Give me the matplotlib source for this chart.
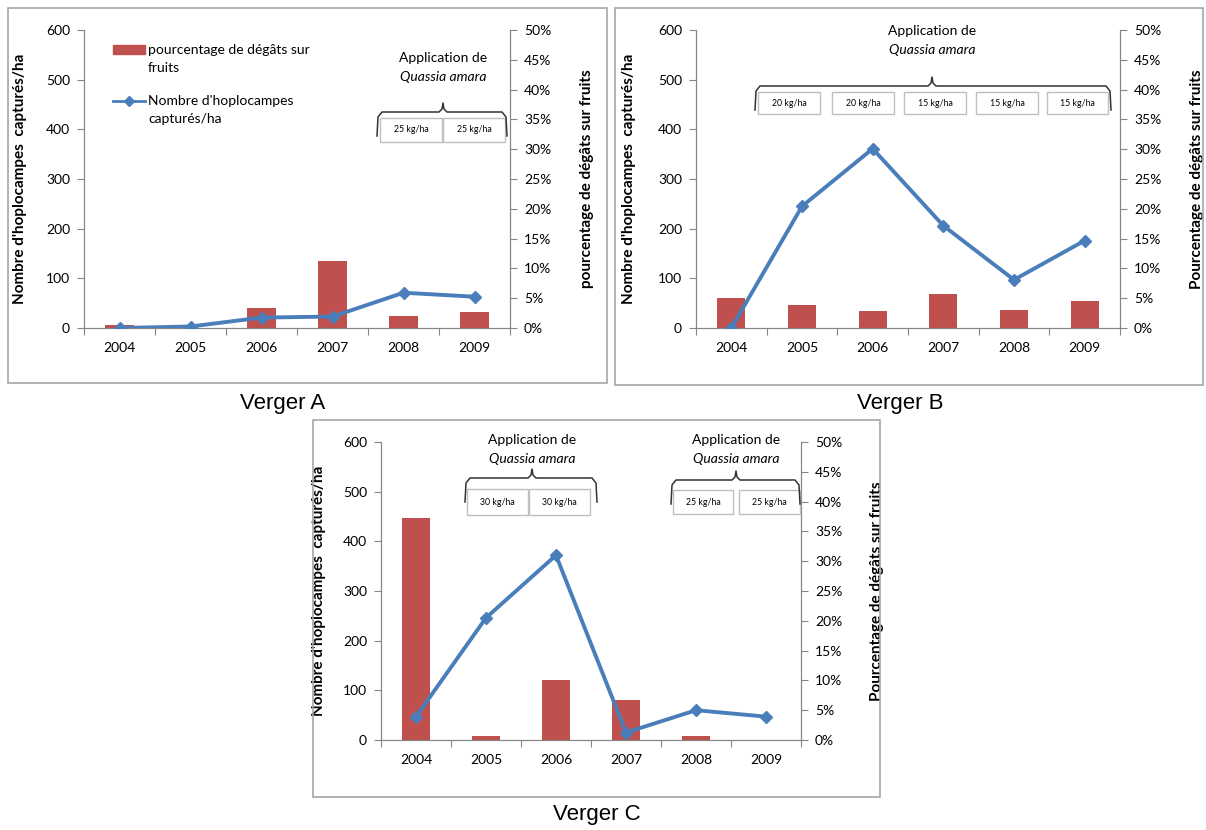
import numpy as np
import matplotlib.pyplot as plt
from matplotlib.patches import Rectangle
from matplotlib.lines import Line2D
from matplotlib.ticker import FuncFormatter

plt.rcParams['font.family'] = ['Lato', 'DejaVu Sans']

W, H = 1206, 830

years = ['2004', '2005', '2006', '2007', '2008', '2009']

# Verger A
hoplo_a = [0, 3, 21, 23, 71, 63]
degats_a = [0.45, 0, 3.4, 11.3, 2.0, 2.7]
doses_a = ['25 kg/ha', '25 kg/ha']

# Verger B
hoplo_b = [0, 245, 361, 206, 97, 176]
degats_b = [5.0, 3.9, 2.9, 5.7, 3.1, 4.5]
doses_b = ['20 kg/ha', '20 kg/ha', '15 kg/ha', '15 kg/ha', '15 kg/ha']

# Verger C
hoplo_c = [47, 246, 372, 15, 60, 47]
degats_c = [37.2, 0.6, 10.1, 6.7, 0.6, 0]
doses_c1 = ['30 kg/ha', '30 kg/ha']
doses_c2 = ['25 kg/ha', '25 kg/ha']

RED = '#C0504D'
BLUE = '#4A7EBB'
GREY = '#868686'

fig = plt.figure(figsize=(W / 100, H / 100), dpi=100)


def fx(x):
    return x / W


def fy(y):
    return 1 - y / H


def frame(x0, y0, x1, y1):
    fig.add_artist(Rectangle((fx(x0), fy(y1)), fx(x1) - fx(x0), (y1 - y0) / H,
                             transform=fig.transFigure, fill=False,
                             edgecolor='#a6a6a6', lw=1.2))


def panel(left, right, top, bottom, hoplo, degats, pct_label, ylab_x, pct_x):
    x = np.arange(len(years))
    ax = fig.add_axes([fx(left), fy(bottom), fx(right) - fx(left), (bottom - top) / H])
    ax.bar(x, degats, width=0.4, color=RED, zorder=2)
    ax.set_ylim(0, 50)
    ax.set_xlim(-0.5, len(years) - 0.5)
    ax.set_xticks(np.arange(-0.5, len(years), 1))
    ax.set_xticklabels([])
    ax.set_xticks(x, minor=True)
    ax.set_xticklabels(years, minor=True)
    ax.tick_params(axis='x', which='minor', length=0, pad=10, labelsize=10)
    ax.tick_params(axis='x', which='major', length=5, color=GREY, direction='out')

    # counts on the left, damage percentage on the right
    ax2 = ax.twinx()
    ax2.plot(x, hoplo, color=BLUE, lw=2.8, marker='D', markersize=6.5, zorder=3)
    ax2.set_ylim(0, 600)
    ax2.set_yticks(np.arange(0, 601, 100))
    ax2.yaxis.tick_left()
    ax2.yaxis.set_label_position('left')
    ax2.set_ylabel("Nombre d'hoplocampes  capturés/ha", fontsize=11, fontweight='bold')
    ax2.yaxis.set_label_coords(fx(ylab_x), fy((top + bottom) / 2), transform=fig.transFigure)
    ax2.tick_params(axis='y', length=5, color=GREY, direction='out', pad=5, labelsize=10)

    ax.yaxis.tick_right()
    ax.yaxis.set_label_position('right')
    ax.set_yticks(np.arange(0, 51, 5))
    ax.yaxis.set_major_formatter(FuncFormatter(lambda v, p: f'{v:.0f}%'))
    ax.set_ylabel(pct_label, fontsize=11, fontweight='bold')
    ax.yaxis.set_label_coords(fx(pct_x), fy((top + bottom) / 2), transform=fig.transFigure)
    ax.tick_params(axis='y', length=5, color=GREY, direction='out', pad=5, labelsize=10)

    for a in (ax, ax2):
        a.spines['top'].set_visible(False)
        for s in ('left', 'right', 'bottom'):
            a.spines[s].set_color(GREY)
    return ax


def application(xc, ytxt, x0, x1, ybr, boxes):
    fig.text(fx(xc), fy(ytxt), 'Application de', ha='center', va='center', fontsize=10)
    fig.text(fx(xc), fy(ytxt + 19), 'Quassia amara', ha='center', va='center',
             fontsize=10, style='italic')
    xm = xc
    pts = [(x0, ybr + 24), (x0 + 1, ybr + 5), (x0 + 5, ybr), (xm - 4, ybr),
           (xm - 1, ybr - 3), (xm, ybr - 9), (xm + 1, ybr - 3), (xm + 4, ybr),
           (x1 - 5, ybr), (x1 - 1, ybr + 5), (x1, ybr + 24)]
    fig.add_artist(Line2D([fx(p[0]) for p in pts], [fy(p[1]) for p in pts],
                          transform=fig.transFigure, color='#333333', lw=1.1))
    for bx0, bx1, by0, by1, lab in boxes:
        fig.add_artist(Rectangle((fx(bx0), fy(by1)), fx(bx1) - fx(bx0), (by1 - by0) / H,
                                 transform=fig.transFigure, facecolor='white',
                                 edgecolor='#bfbfbf', lw=1))
        fig.text(fx((bx0 + bx1) / 2), fy((by0 + by1) / 2), lab, ha='center',
                 va='center', fontsize=6.3)


frame(8, 8, 607, 383)
frame(615, 8, 1203, 385)
frame(313, 420, 880, 797)

ax_a = panel(84, 510, 30, 328, hoplo_a, degats_a, 'pourcentage de dégâts sur fruits', 27, 580)
ax_b = panel(696, 1120, 30, 328, hoplo_b, degats_b, 'Pourcentage de dégâts sur fruits', 636, 1190)
ax_c = panel(381, 801, 442, 740, hoplo_c, degats_c, 'Pourcentage de dégâts sur fruits', 326, 870)

# legend of the first orchard, keys aligned with the first line of each label
fig.add_artist(Rectangle((fx(113), fy(54)), fx(145) - fx(113), 9 / H,
                         transform=fig.transFigure, color=RED))
fig.add_artist(Line2D([fx(113), fx(145)], [fy(101), fy(101)], transform=fig.transFigure,
                      color=BLUE, lw=2, marker='D', markersize=5, markevery=[]))
fig.add_artist(Line2D([fx(129)], [fy(101)], transform=fig.transFigure,
                      color=BLUE, marker='D', markersize=5, ls='none'))
fig.text(fx(148), fy(50), 'pourcentage de dégâts sur', ha='left', va='center', fontsize=10)
fig.text(fx(148), fy(68), 'fruits', ha='left', va='center', fontsize=10)
fig.text(fx(148), fy(101), "Nombre d'hoplocampes", ha='left', va='center', fontsize=10)
fig.text(fx(148), fy(119), 'capturés/ha', ha='left', va='center', fontsize=10)

application(443, 58, 377, 507, 112,
            [(380, 442, 118, 142, doses_a[0]), (443, 505, 118, 142, doses_a[1])])
application(932, 31, 755, 1111, 86,
            [(758, 820, 92, 114, doses_b[0]), (832, 894, 92, 114, doses_b[1]),
             (904, 966, 92, 114, doses_b[2]), (976, 1038, 92, 114, doses_b[3]),
             (1047, 1108, 92, 114, doses_b[4])])
application(532, 440, 465, 597, 478,
            [(467, 528, 489, 515, doses_c1[0]), (529, 590, 489, 515, doses_c1[1])])
application(736, 440, 671, 800, 480,
            [(673, 733, 490, 514, doses_c2[0]), (739, 800, 490, 514, doses_c2[1])])

fig.text(fx(283), fy(404), 'Verger A', ha='center', va='center', fontsize=16,
         family='Liberation Sans')
fig.text(fx(900), fy(404), 'Verger B', ha='center', va='center', fontsize=16,
         family='Liberation Sans')
fig.text(fx(597), fy(814), 'Verger C', ha='center', va='center', fontsize=16,
         family='Liberation Sans')

fig.savefig('out.png', dpi=100)
